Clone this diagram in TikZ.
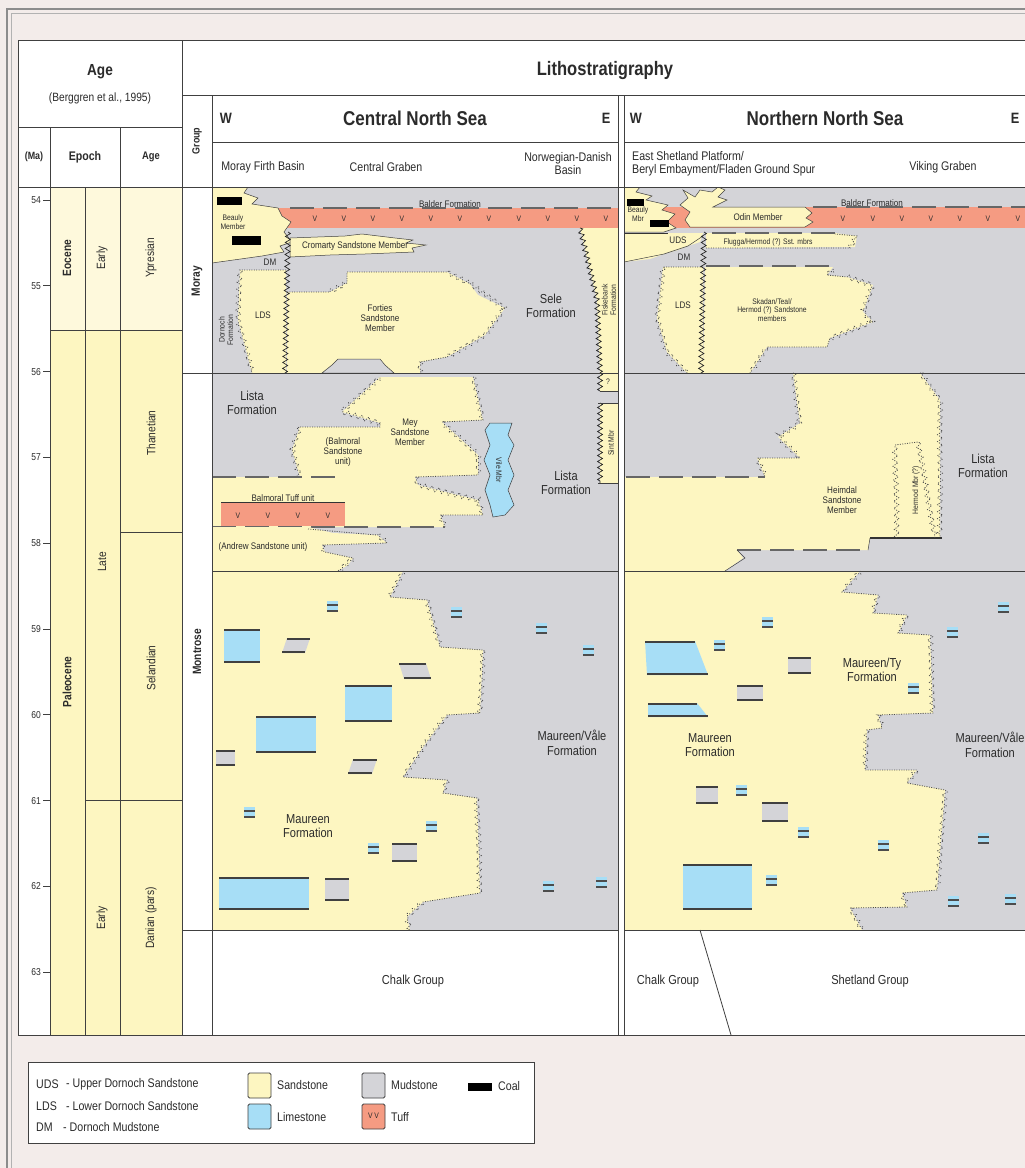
\documentclass[tikz,border=0pt]{standalone}
\usepackage{fontspec}
\setmainfont{Liberation Sans}[FakeStretch=0.85]
\usetikzlibrary{decorations.pathmorphing}
\definecolor{sand}{HTML}{FDF6C1}
\definecolor{sandlt}{HTML}{FEF9DC}
\definecolor{mud}{HTML}{D4D4D8}
\definecolor{lime}{HTML}{A7DEF6}
\definecolor{tuff}{HTML}{F59B82}
\definecolor{bgpink}{HTML}{F3ECEA}
\definecolor{ink}{HTML}{2B2B2B}
\newcommand\LimeBox[4]{\fill[lime] (#1,#2) rectangle (#3,#4);
  \draw[black!75,line width=1.8pt] (#1,#2+0.9) -- (#3,#2+0.9) (#1,#4-0.9) -- (#3,#4-0.9);}
\newcommand\MudBox[4]{\fill[mud] (#1,#2) rectangle (#3,#4);
  \draw[black!75,line width=1.8pt] (#1,#2+0.9) -- (#3,#2+0.9) (#1,#4-0.9) -- (#3,#4-0.9);}
\newcommand\MudPar[5]{\fill[mud] (#1+#5,#2) -- (#3+#5,#2) -- (#3,#4) -- (#1,#4) -- cycle;
  \draw[black!75,line width=1.8pt] (#1+#5,#2+0.9) -- (#3+#5,#2+0.9) (#1,#4-0.9) -- (#3,#4-0.9);}
\tikzset{
  fr/.style={draw=black!75,line width=0.9pt},
  thinl/.style={draw=black!75,line width=0.5pt},
  jag/.style={draw=black!70,line width=0.8pt,dash pattern=on 1pt off 1.4pt,
    decoration={zigzag,segment length=7pt,amplitude=2.5pt}},
  zz/.style={draw=black!85,line width=0.7pt,decoration={zigzag,segment length=6pt,amplitude=2.5pt}},
  dsh/.style={draw=black!60,line width=1.8pt,dash pattern=on 24pt off 9pt},
  txt/.style={inner sep=0pt,align=center,text=ink},
  sm/.style={txt,font=\fontsize{9.5}{10}\selectfont},
  xs/.style={txt,font=\fontsize{8}{8.5}\selectfont},
  md/.style={txt,font=\fontsize{13}{14.5}\selectfont},
  sub/.style={txt,font=\fontsize{12.5}{13}\selectfont},
  vv/.style={txt,font=\fontsize{8}{8}\selectfont},
  hb/.style={txt,font=\bfseries\fontsize{20}{22}\selectfont},
  col/.style={txt,font=\fontsize{12}{12}\selectfont,rotate=90},
  colb/.style={txt,font=\bfseries\fontsize{12}{12}\selectfont,rotate=90},
  leg/.style={txt,font=\fontsize{12.5}{12.5}\selectfont,anchor=west},
  lq/.pic={\fill[lime] (-5.5,-5.5) rectangle (5.5,5.5);
     \fill[black!70] (-5.5,-1.8) rectangle (5.5,-0.2);
     \fill[black!70] (-5.5,3.8) rectangle (5.5,5.5);}
}
\begin{document}
\begin{tikzpicture}[x=1pt,y=-1pt]
\useasboundingbox (0,0) rectangle (1025,1168);
\fill[bgpink] (0,0) rectangle (1025,1168);
\draw[black!45,line width=1.2pt] (7,1175) -- (7,9) -- (1030,9);
\draw[black!30,line width=0.8pt] (11,1175) -- (11,13) -- (1030,13);
\fill[white] (18,40) rectangle (1030,1035);
% age column fills
\fill[sandlt] (50,187) rectangle (182,330);
\fill[sand] (50,330) rectangle (182,1035);

% ================= CENTRAL NORTH SEA =================
\begin{scope}
\clip (212,187) rectangle (618,930);
\fill[mud] (212,187) rectangle (618,930);
% Balder tuff
\fill[tuff] (276,208) rectangle (620,228);
\draw[dsh] (290,208) -- (620,208);
\foreach \x in {315,344,373,402,431,460,489,519,548,577,606}
  \node[vv] (cv\x) at (\x,219) {V};
\node[sm] (cbalder) at (450,204) {Balder Formation};
% Beauly
\filldraw[fill=sand,thinl] (212,187) -- (248,187) -- (244,193) -- (258,198) -- (252,204) -- (278,208) -- (282,216) -- (291,222) -- (284,232) -- (292,242) -- (280,246) -- (284,252) -- (262,256) -- (212,263);
\fill[black] (217,197) rectangle (242,205);
\fill[black] (232,236) rectangle (261,245);
\node[xs] (cbeauly) at (233,222) {Beauly\\Member};
% Cromarty
\filldraw[fill=sand,thinl] (290,238) -- (345,236) -- (362,234) -- (395,238) -- (413,240) -- (406,243) -- (426,245) -- (412,248) -- (414,252) -- (365,254) -- (330,255) -- (290,257) -- cycle;
\node[sm] (ccrom) at (355,246) {Cromarty Sandstone Member};
\node[sm] (cdm) at (270,262) {DM};
% LDS
\fill[sand] (240,270) -- (286,270) -- (286,373) -- (252,373) -- (238,320) -- cycle;
\draw[jag] (286,270) -- (240,270) decorate{-- (238,320) -- (252,373)};
\node[sm] (clds) at (263,315) {LDS};
\node[xs,rotate=90] (cdorn) at (226,330) {Dornoch\\Formation};
% Forties
\fill[sand] (287,292) -- (330,292) -- (347,283) -- (347,272) -- (447,272) -- (470,284) -- (478,295) -- (505,308) -- (485,335) -- (447,357) -- (420,362) -- (420,373) -- (287,373) -- cycle;
\draw[jag] (287,292) -- (330,292) decorate{-- (347,283)} -- (347,272) -- (447,272) decorate{-- (470,284)} decorate{-- (505,308) -- (485,335) -- (447,357)} -- (420,362) decorate{-- (420,373)};
\filldraw[fill=mud,thinl] (338,359) -- (380,359) -- (385,365) -- (394,373) -- (322,373) -- (332,365) -- cycle;
\node[sm] (cfort) at (380,318) {Forties\\Sandstone\\Member};
\draw[zz,decorate] (288,232) -- (285,373);
\node[md] (csele) at (551,306) {Sele\\Formation};
% Fiskebank
\fill[sand] (580,228) -- (620,228) -- (620,373) -- (600,373) -- (597,300) -- cycle;
\draw[zz,decorate] (580,228) -- (597,300) -- (600,373);
\node[xs,rotate=90] (cfisk) at (609,300) {Fiskebank\\Formation};
% ---- Lista
\fill[sand] (600,373) -- (620,373) -- (620,391) -- (600,391) -- cycle;
\draw[zz,decorate] (600,373) -- (600,391);
\draw[thinl] (600,391) -- (618,391);
\node[xs] (cq) at (608,382) {?};
\fill[sand] (600,403) rectangle (620,483);
\draw[zz,decorate] (600,403) -- (600,483);
\draw[thinl] (598,403) -- (618,403) (598,483) -- (618,483);
\node[xs,rotate=90] (csint) at (611,443) {Sint Mbr};
% Mey + Balmoral + lower band
\fill[sand] (380,377) -- (473,377) -- (483,420) -- (442,422) -- (478,455) -- (478,475) -- (415,477) -- (418,485) -- (478,500) -- (483,515) -- (440,515) -- (445,527) -- (212,527) -- (212,477) -- (300,477) -- (292,450) -- (300,427) -- (380,427) -- (380,423) -- (342,412) -- cycle;
\draw[jag] (300,427) -- (380,427) -- (380,423) decorate{-- (342,412) -- (380,377)};
\draw[jag] (300,477) decorate{-- (292,450) -- (300,427)};
\draw[jag] (473,377) decorate{-- (483,420)} -- (442,422) decorate{-- (478,455) -- (478,475)} -- (415,477) decorate{-- (418,485) -- (478,500) -- (483,515)} -- (440,515) decorate{-- (445,527)};
\draw[dsh] (212,477) -- (340,477);
\draw[dsh] (212,527) -- (445,527);
% Balmoral tuff
\fill[tuff] (221,502) rectangle (345,526);
\draw[black!80,line width=1pt] (221,502) -- (345,502);
\foreach \x in {238,268,298,328} \node[vv] (cb\x) at (\x,516) {V};
\node[sm] (cbtuff) at (283,498) {Balmoral Tuff unit};
\node[sm] (cbals) at (343,452) {(Balmoral\\Sandstone\\unit)};
\node[sm] (cmey) at (410,432) {Mey\\Sandstone\\Member};
% Andrew
\fill[sand] (212,527) -- (308,527) -- (333,533) -- (377,535) -- (387,543) -- (322,545) -- (325,552) -- (353,558) -- (348,565) -- (338,571) -- (212,571) -- cycle;
\draw[jag] (308,529) -- (377,535) decorate{-- (387,543)} -- (322,545) decorate{-- (325,552)} -- (353,558) decorate{-- (338,571)};
\node[sm] (candrew) at (263,547) {(Andrew Sandstone unit)};
% limestone lens
\filldraw[fill=lime,thinl] (490,423) -- (512,423) -- (508,435) -- (514,445) -- (508,460) -- (514,475) -- (508,490) -- (514,505) -- (505,515) -- (493,517) -- (490,505) -- (485,490) -- (490,475) -- (484,460) -- (490,445) -- (485,430) -- cycle;
\node[xs,rotate=-90] (cvile) at (499,470) {Vile Mbr};
\node[md] (clista1) at (252,403) {Lista\\Formation};
\node[md] (clista2) at (566,483) {Lista\\Formation};
% ---- Maureen
\fill[sand] (212,571) -- (403,571) -- (390,597) -- (427,600) -- (440,647) -- (483,650) -- (480,713) -- (447,715) -- (423,747) -- (403,777) -- (447,780) -- (443,793) -- (477,798) -- (480,893) -- (423,902) -- (407,917) -- (410,930) -- (212,930) -- cycle;
\draw[jag] (403,571) decorate{-- (390,597)} -- (427,600) decorate{-- (440,647)} -- (483,650) decorate{-- (480,713)} -- (447,715) decorate{-- (423,747) -- (403,777)} -- (447,780) decorate{-- (443,793)} -- (477,798) decorate{-- (480,893)} -- (423,902) decorate{-- (407,917) -- (410,930)};
\LimeBox{224}{629}{260}{663}
\LimeBox{345}{685}{392}{722}
\LimeBox{256}{716}{316}{753}
\LimeBox{219}{877}{309}{910}
\MudPar{282}{638}{305}{653}{5}
\MudPar{404}{663}{431}{679}{-5}
\MudBox{216}{750}{235}{766}
\MudPar{348}{759}{372}{774}{5}
\MudBox{392}{843}{417}{862}
\MudBox{325}{878}{349}{901}
\foreach \x/\y in {332/606,456/612,541/628,588/650,249/812,431/826,373/848,548/886,601/882}
  \pic (cl\x) at (\x,\y) {lq};
\node[md] (cmaur) at (308,826) {Maureen\\Formation};
\node[md] (cvale) at (572,743) {Maureen/Våle\\Formation};
\end{scope}

% ================= NORTHERN NORTH SEA =================
\begin{scope}
\clip (624,187) rectangle (1030,930);
\fill[mud] (624,187) rectangle (1030,930);
% Balder
\fill[tuff] (624,207) rectangle (1030,228);
\draw[dsh] (813,207) -- (1030,207);
\foreach \x in {843,873,902,931,960,988,1018} \node[vv] (nv\x) at (\x,219) {V};
\node[sm] (nbalder) at (872,203) {Balder Formation};
% Beauly
\filldraw[fill=sand,thinl] (624,187) -- (640,187) -- (636,192) -- (652,196) -- (646,200) -- (668,205) -- (662,210) -- (675,214) -- (667,222) -- (676,228) -- (664,232) -- (624,232);
\fill[black] (627,199) rectangle (644,206);
\fill[black] (650,220) rectangle (669,227);
\node[xs] (nbeauly) at (638,214) {Beauly\\Mbr};
% Odin
\filldraw[fill=sand,thinl] (683,190) -- (695,197) -- (700,190) -- (712,192) -- (718,187) -- (725,190) -- (718,197) -- (727,200) -- (713,207) -- (805,207) -- (812,213) -- (806,218) -- (813,222) -- (805,227) -- (690,227) -- (685,220) -- (690,212) -- (680,205) -- (688,198) -- cycle;
\node[sm] (nodin) at (758,217) {Odin Member};
% UDS
\fill[sand] (624,233) -- (703,233) -- (700,242) -- (688,246) -- (678,250) -- (664,254) -- (650,259) -- (624,262) -- cycle;
\draw[black!80,line width=1pt] (624,233) -- (668,233);
\draw[thinl] (703,236) -- (688,246) -- (664,254) -- (624,262);
\node[sm] (nuds) at (678,240) {UDS};
% Flugga
\fill[sand] (706,233) -- (835,233) -- (857,236) -- (855,247) -- (706,248) -- cycle;
\draw[dsh] (712,233) -- (835,233);
\draw[jag] (706,248) -- (850,248) decorate{-- (857,236)} -- (835,234);
\node[xs] (nflug) at (768,242) {Flugga/Hermod (?) Sst. mbrs};
\node[sm] (ndm) at (684,257) {DM};
% LDS
\fill[sand] (663,267) -- (703,267) -- (703,373) -- (687,373) -- (667,352) -- (657,318) -- cycle;
\draw[jag] (703,267) -- (663,267) decorate{-- (657,318) -- (667,352) -- (687,373)};
\node[sm] (nlds) at (683,305) {LDS};
% Skadan
\fill[sand] (705,267) -- (833,267) -- (827,275) -- (847,277) -- (873,285) -- (863,312) -- (873,322) -- (857,328) -- (830,338) -- (827,347) -- (767,347) -- (750,373) -- (703,373) -- cycle;
\draw[jag] (833,269) decorate{-- (827,275)} -- (847,277) decorate{-- (873,285) -- (863,312) -- (873,322) -- (830,338)} -- (827,347) -- (767,347) decorate{-- (750,373)};
\draw[dsh] (706,266) -- (835,266);
\draw[zz,decorate] (704,232) -- (701,373);
\node[xs] (nskad) at (772,310) {Skadan/Teal/\\Hermod (?) Sandstone\\members};
% ---- Lista
\fill[sand] (793,373) -- (920,373) -- (940,400) -- (940,538) -- (870,538) -- (868,550) -- (737,550) -- (743,558) -- (725,571) -- (624,571) -- (624,477) -- (765,477) -- (757,458) -- (800,458) -- (778,437) -- (800,423) -- cycle;
\draw[jag] (920,373) decorate{-- (940,400) -- (940,537)};
\draw[jag] (793,373) decorate{-- (800,423) -- (778,437) -- (800,458)} -- (757,458) decorate{-- (765,477)};
\draw[dsh] (626,477) -- (765,477);
\draw[dsh] (737,550) -- (868,550);
\draw[black!80,line width=1.2pt] (870,538) -- (942,538);
\draw[thinl] (870,538) -- (868,550);
\draw[thinl] (737,550) -- (745,558) -- (725,571);
\draw[jag] (897,538) decorate{-- (895,445)} -- (918,442) decorate{-- (935,538)};
\node[xs,rotate=90] (nherm) at (916,490) {Hermod Mbr (?)};
\node[sm] (nheim) at (842,500) {Heimdal\\Sandstone\\Member};
\node[md] (nlista) at (983,466) {Lista\\Formation};
% ---- Maureen
\fill[sand] (624,571) -- (860,571) -- (842,592) -- (878,595) -- (873,613) -- (907,615) -- (898,633) -- (930,635) -- (933,713) -- (878,715) -- (882,728) -- (867,730) -- (865,770) -- (917,770) -- (907,783) -- (945,790) -- (937,890) -- (902,893) -- (907,907) -- (850,908) -- (862,930) -- (624,930) -- cycle;
\draw[jag] (860,571) decorate{-- (842,592)} -- (878,595) decorate{-- (873,613)} -- (907,615) decorate{-- (898,633)} -- (930,635) decorate{-- (933,713)} -- (878,715) decorate{-- (882,728)} -- (867,730) decorate{-- (865,770)} -- (917,770) decorate{-- (907,783)} -- (945,790) decorate{-- (937,890)} -- (902,893) decorate{-- (907,907)} -- (850,908) decorate{-- (862,930)};
\fill[lime] (645,641) -- (695,641) -- (708,675) -- (647,675) -- cycle;
\draw[black!75,line width=1.8pt] (645,642) -- (695,642) (647,674) -- (708,674);
\fill[lime] (648,703) -- (697,703) -- (708,717) -- (648,717) -- cycle;
\draw[black!75,line width=1.8pt] (648,704) -- (697,704) (648,716) -- (708,716);
\LimeBox{683}{864}{752}{910}
\MudBox{788}{657}{811}{674}
\MudBox{737}{685}{763}{701}
\MudBox{696}{786}{718}{804}
\MudBox{762}{802}{788}{822}
\foreach \x/\y in {767/622,719/645,1003/607,952/632,913/688,741/790,803/832,883/845,771/880,983/838,953/901,1010/899}
  \pic (nl\x) at (\x,\y) {lq};
\node[md] (nty) at (872,670) {Maureen/Ty\\Formation};
\node[md] (nmaur) at (710,745) {Maureen\\Formation};
\node[md] (nvale) at (990,745) {Maureen/Våle\\Formation};
\end{scope}

% chalk / shetland
\coordinate (sh1) at (700,930);
\coordinate (sh2) at (731,1035);
\draw[thinl,line width=0.8pt] (sh1) -- (sh2);
\node[md] (cchalk) at (413,981) {Chalk Group};
\node[md] (nchalk) at (668,981) {Chalk Group};
\node[md] (nshet) at (870,981) {Shetland Group};

% ================= GRID LINES =================
\draw[fr] (18,40) rectangle (1030,1035);
\draw[fr] (182,40) -- (182,1035);
\draw[fr] (182,95) -- (1030,95);
\draw[fr] (18,127) -- (182,127);
\draw[fr] (18,187) -- (1030,187);
\draw[fr] (212,142) -- (618,142) (624,142) -- (1030,142);
\draw[fr] (212,95) -- (212,1035);
\draw[fr] (618,95) -- (618,1035) (624,95) -- (624,1035);
\draw[fr] (50,127) -- (50,1035) (120,127) -- (120,1035) (85,187) -- (85,1035);
\draw[fr] (50,330) -- (182,330) (120,532) -- (182,532) (85,800) -- (182,800);
\draw[fr] (182,373) -- (212,373) (182,930) -- (212,930);
\draw[fr] (212,373) -- (618,373) (624,373) -- (1030,373);
\draw[fr] (212,571) -- (618,571) (624,571) -- (1030,571);
\draw[fr] (212,930) -- (618,930) (624,930) -- (1030,930);

% ticks
\foreach \m [count=\i from 0] in {54,...,63} {
  \draw[black!75,line width=0.8pt] (43,{200+85.8*\i}) -- (50,{200+85.8*\i});
  \node[txt,font=\fontsize{10}{10}\selectfont,anchor=east] (ma\m) at (41,{200+85.8*\i}) {\m};
}

% ================= HEADER TEXT =================
\node[txt,font=\bfseries\fontsize{16}{16}\selectfont] (hage) at (100,72) {Age};
\node[txt,font=\fontsize{12}{12}\selectfont] (hberg) at (100,98) {(Berggren et al., 1995)};
\node[txt,font=\bfseries\fontsize{10.5}{10.5}\selectfont] (hma) at (34,157) {(Ma)};
\node[txt,font=\bfseries\fontsize{12.5}{12.5}\selectfont] (hepoch) at (85,157) {Epoch};
\node[txt,font=\bfseries\fontsize{11}{11}\selectfont] (hage2) at (151,157) {Age};
\node[txt,font=\bfseries\fontsize{10.5}{10.5}\selectfont,rotate=90] (hgroup) at (197,141) {Group};
\node[txt,font=\bfseries\fontsize{19.5}{20}\selectfont] (hlitho) at (605,70) {Lithostratigraphy};
\node[txt,font=\bfseries\fontsize{15}{15}\selectfont] (hcw) at (226,118) {W};
\node[hb] (hcns) at (415,118) {Central North Sea};
\node[txt,font=\bfseries\fontsize{15}{15}\selectfont] (hce) at (606,118) {E};
\node[txt,font=\bfseries\fontsize{15}{15}\selectfont] (hnw) at (636,118) {W};
\node[hb] (hnns) at (825,118) {Northern North Sea};
\node[txt,font=\bfseries\fontsize{15}{15}\selectfont] (hne) at (1015,118) {E};
\node[sub] (hmfb) at (263,167) {Moray Firth Basin};
\node[sub] (hcg) at (386,167) {Central Graben};
\node[sub] (hndb) at (568,164) {Norwegian-Danish\\Basin};
\node[sub,align=left,anchor=west] (hesp) at (632,164) {East Shetland Platform/\\Beryl Embayment/Fladen Ground Spur};
\node[sub] (hvg) at (943,167) {Viking Graben};

% epoch / age labels
\node[colb] (eeoc) at (67,258) {Eocene};
\node[col] (eearly1) at (102,258) {Early};
\node[col] (eypr) at (151,258) {Ypresian};
\node[colb] (epal) at (67,682) {Paleocene};
\node[col] (elate) at (102,562) {Late};
\node[col] (eearly2) at (102,918) {Early};
\node[col] (ethan) at (151,433) {Thanetian};
\node[col] (esel) at (151,668) {Selandian};
\node[col] (edan) at (151,918) {Danian (pars)};
\node[colb] (gmoray) at (197,281) {Moray};
\node[colb] (gmont) at (197,652) {Montrose};

% ================= LEGEND =================
\draw[black!75,line width=0.9pt,fill=white] (28,1062) rectangle (534,1143);
\node[leg] (l1a) at (36,1084) {UDS};
\node[leg] (l1b) at (66,1084) {- Upper Dornoch Sandstone};
\node[leg] (l2a) at (36,1106) {LDS};
\node[leg] (l2b) at (66,1106) {- Lower Dornoch Sandstone};
\node[leg] (l3a) at (36,1127) {DM};
\node[leg] (l3b) at (63,1127) {- Dornoch Mudstone};
\filldraw[fill=sand,draw=black!75,line width=0.9pt,rounded corners=1.5pt] (248,1073) rectangle (271,1098);
\filldraw[fill=lime,draw=black!75,line width=0.9pt,rounded corners=1.5pt] (248,1104) rectangle (271,1129);
\filldraw[fill=mud,draw=black!75,line width=0.9pt,rounded corners=1.5pt] (362,1073) rectangle (385,1098);
\filldraw[fill=tuff,draw=black!75,line width=0.9pt,rounded corners=1.5pt] (362,1104) rectangle (385,1129);
\node[vv] (lvv) at (373.5,1116) {V V};
\fill[black] (468,1083) rectangle (492,1091);
\node[leg] (ls) at (277,1085) {Sandstone};
\node[leg] (ll) at (277,1117) {Limestone};
\node[leg] (lm) at (391,1085) {Mudstone};
\node[leg] (lt) at (391,1117) {Tuff};
\node[leg] (lc) at (498,1086) {Coal};
\end{tikzpicture}
\end{document}
